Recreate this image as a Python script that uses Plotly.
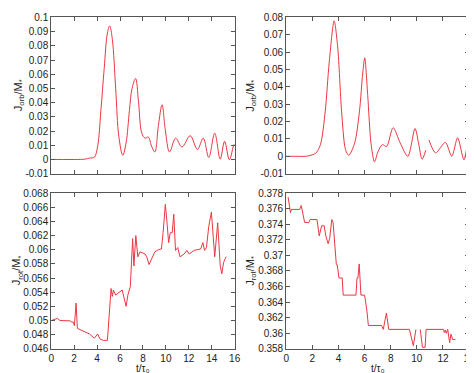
import plotly.graph_objects as go

# ---- data ----
tl_t = [0, 1.0, 2.0, 3.0, 3.34, 3.76, 4.05, 4.33, 4.62, 4.9, 5.1, 5.33, 5.62, 5.9, 6.24, 6.53, 6.82, 7.05, 7.36, 7.61, 7.9,
        8.19, 8.47, 8.75, 9.04, 9.35, 9.67, 9.95, 10.32, 10.85, 11.4, 12.12, 12.75, 13.26, 13.74, 14.26, 14.74, 15.12, 15.54, 15.94, 16.0]
tl_j = [0, 0, 0, 0.0003, 0.001, 0.0016, 0.0094, 0.0344, 0.064, 0.089, 0.094, 0.0846, 0.050, 0.016, 0.003, 0.0117, 0.0345, 0.050, 0.057, 0.041, 0.0185,
        0.015, 0.0158, 0.0094, 0.0053, 0.024, 0.0385, 0.0208, 0.0053, 0.015, 0.0088, 0.0167, 0.0071, 0.015, 0.0014, 0.0185, 0.0003, 0.0128, -0.0002, 0.0105, 0.0095]

tr_t = [0, 1.0, 1.5, 2.25, 2.62, 2.99, 3.29, 3.67, 3.94, 4.24, 4.54, 4.79, 5.24, 5.61, 5.86, 6.01, 6.24, 6.49, 6.76, 7.04, 7.36, 7.69,
        8.18, 8.73, 9.31, 9.86, 10.13, 10.4, 10.68, 10.8,
        10.93, 11.43, 12.18, 12.67, 13.12, 13.6, 13.97, 14.0]
tr_j = [0, 0, 0, 0.0017, 0.0067, 0.026, 0.054, 0.078, 0.063, 0.026, 0.0039, 0.0006, 0.0076, 0.026, 0.048, 0.0567, 0.035, 0.0076, -0.0032, 0.003, 0.0067, 0.0057,
        0.0165, 0.0076, 0.0, 0.016, 0.0076, -0.0017, 0.0035, None,
        0.0094, 0.002, 0.008, 0.0, 0.0107, -0.002, 0.0105, 0.0102]

bl_t = [0, 0.54, 0.77, 1.63, 1.8, 1.91, 2.02, 2.17, 2.28, 2.77, 3.05, 3.34, 3.76, 4.05, 4.25, 4.53, 4.9, 5.22, 5.33, 5.42, 5.62, 5.96, 6.19,
        6.53, 6.7, 6.9, 7.1, 7.21, 7.38, 7.55, 7.75, 8.19, 8.33, 8.53, 8.76, 9.04, 9.33, 9.61, 9.76, 9.95, 10.06, 10.24, 10.38,
        10.55, 10.69, 10.84, 11.04, 11.23, 11.6, 11.83, 12.03, 12.46, 13.03, 13.23, 13.37, 13.54, 13.74, 13.97, 14.26, 14.52,
        14.74, 14.88, 15.03, 15.25]
bl_j = [0.0500, 0.0503, 0.0500, 0.04996, 0.0498, 0.0498, 0.04928, 0.05246, 0.0489, 0.04857, 0.04835, 0.0481, 0.0475, 0.0481, 0.0474, 0.0472, 0.0472, 0.05452, 0.0534, 0.0543, 0.0536, 0.0540, 0.0543,
        0.0520, 0.0537, 0.0548, 0.06158, 0.0577, 0.0620, 0.0590, 0.0597, 0.0594, 0.0590, 0.0579, 0.0588, 0.0597, 0.0600, 0.0601, 0.0624, 0.0664, 0.0646, 0.0610, 0.0624,
        0.0624, 0.0650, 0.0599, 0.0603, 0.0590, 0.0594, 0.0599, 0.0594, 0.0599, 0.0601, 0.0610, 0.0599, 0.0603, 0.0633, 0.0653, 0.0590, 0.0638,
        0.0577, 0.0566, 0.0582, 0.0590]

br_t = [0.15, 0.33, 0.4, 1.03, 1.15, 1.41, 1.73, 1.83, 2.36, 2.53, 2.71, 2.91, 3.03, 3.21, 3.33, 3.49, 3.59, 3.84, 3.91, 4.04, 4.29, 4.36,
        5.34, 5.42, 5.49, 5.59, 5.72, 6.0, 6.17, 6.29, 7.3, 7.43, 7.67, 7.85, 9.43, 9.73, 9.93, 10.1,
        10.26, 10.43, 10.63, 10.71, 12.05, 12.1, 12.18, 12.25, 12.36, 12.51, 12.61, 12.74, 12.94]
br_j = [0.37747, 0.37548, 0.3759, 0.3759, 0.3764, 0.37424, 0.3742, 0.3746, 0.3746, 0.3725, 0.3738, 0.3738, 0.3725, 0.3715, 0.3722, 0.3746, 0.3742, 0.3688, 0.3688, 0.3671, 0.3671, 0.3649,
        0.3649, 0.3671, 0.3671, 0.3689, 0.3649, 0.3649, 0.3630, 0.3610, 0.3610, 0.3605, 0.3626, 0.3605, 0.3605, 0.3584, 0.3605, None,
        0.3605, 0.3582, 0.3582, 0.3605, 0.3605, 0.3601, 0.3604, 0.3600, 0.3605, 0.3588, 0.3599, 0.3592, 0.3592]

x16_ticks = [0, 2, 4, 6, 8, 10, 12, 14, 16]
x14_ticks = [0, 2, 4, 6, 8, 10, 12, 14]
tl_yticks = [-0.01, 0, 0.01, 0.02, 0.03, 0.04, 0.05, 0.06, 0.07, 0.08, 0.09, 0.1]
tl_ylabels = ["-0.01", "0", "0.01", "0.02", "0.03", "0.04", "0.05", "0.06", "0.07", "0.08", "0.09", "0.1"]
tr_yticks = [-0.01, 0, 0.01, 0.02, 0.03, 0.04, 0.05, 0.06, 0.07, 0.08]
tr_ylabels = ["-0.01", "0", "0.01", "0.02", "0.03", "0.04", "0.05", "0.06", "0.07", "0.08"]
bl_yticks = [0.046, 0.048, 0.05, 0.052, 0.054, 0.056, 0.058, 0.06, 0.062, 0.064, 0.066, 0.068]
bl_ylabels = ["0.046", "0.048", "0.05", "0.052", "0.054", "0.056", "0.058", "0.06", "0.062", "0.064", "0.066", "0.068"]
br_yticks = [0.358, 0.36, 0.362, 0.364, 0.366, 0.368, 0.37, 0.372, 0.374, 0.376, 0.378]
br_ylabels = ["0.358", "0.36", "0.362", "0.364", "0.366", "0.368", "0.37", "0.372", "0.374", "0.376", "0.378"]

RED = "rgb(235,55,65)"
FONT = "Liberation Sans, Arial, sans-serif"
W, H = 474, 373

fig = go.Figure()
fig.add_trace(go.Scatter(x=tl_t, y=tl_j, mode="lines", line=dict(color=RED, width=1, shape="spline", smoothing=1.0),
                         xaxis="x", yaxis="y", showlegend=False))
fig.add_trace(go.Scatter(x=tr_t, y=tr_j, mode="lines", line=dict(color=RED, width=1, shape="spline", smoothing=0.8),
                         xaxis="x2", yaxis="y2", showlegend=False, connectgaps=False))
fig.add_trace(go.Scatter(x=bl_t, y=bl_j, mode="lines", line=dict(color=RED, width=1),
                         xaxis="x3", yaxis="y3", showlegend=False))
fig.add_trace(go.Scatter(x=br_t, y=br_j, mode="lines", line=dict(color=RED, width=1),
                         xaxis="x4", yaxis="y4", showlegend=False, connectgaps=False))

left_dom = [41 / W, 228 / W]
right_dom = [280.5 / W, 467 / W]
top_dom = [1 - 165 / H, 1 - 3.5 / H]
bot_dom = [1 - 346 / H, 1 - 185 / H]

axcommon = dict(showgrid=False, zeroline=False, showline=True, linecolor="#555", linewidth=1, mirror="ticks",
                ticks="inside", ticklen=4, tickcolor="#555", tickfont=dict(family=FONT, size=10, color="#222"))

fig.update_layout(
    width=W, height=H, margin=dict(l=0, r=0, t=0, b=0),
    paper_bgcolor="white", plot_bgcolor="white",
    xaxis=dict(domain=left_dom, anchor="y", range=[0, 16], tickvals=x16_ticks, showticklabels=False, **axcommon),
    yaxis=dict(domain=top_dom, anchor="x", range=[-0.01, 0.1], tickvals=tl_yticks, ticktext=tl_ylabels, **axcommon),
    xaxis2=dict(domain=right_dom, anchor="y2", range=[0, 14], tickvals=x14_ticks, showticklabels=False, **axcommon),
    yaxis2=dict(domain=top_dom, anchor="x2", range=[-0.01, 0.08], tickvals=tr_yticks, ticktext=tr_ylabels, **axcommon),
    xaxis3=dict(domain=left_dom, anchor="y3", range=[0, 16], tickvals=x16_ticks, **axcommon),
    yaxis3=dict(domain=bot_dom, anchor="x3", range=[0.046, 0.068], tickvals=bl_yticks, ticktext=bl_ylabels, **axcommon),
    xaxis4=dict(domain=right_dom, anchor="y4", range=[0, 14], tickvals=x14_ticks, **axcommon),
    yaxis4=dict(domain=bot_dom, anchor="x4", range=[0.358, 0.378], tickvals=br_yticks, ticktext=br_ylabels, **axcommon),
)

tfont = dict(family=FONT, size=11, color="#222")
xfont = dict(family=FONT, size=10, color="#222")
annots = [
    dict(text="J<sub>orb</sub>/M<sub>*</sub>", x=8 / W, y=1 - 84 / H, textangle=-90, font=tfont),
    dict(text="J<sub>orb</sub>/M<sub>*</sub>", x=245 / W, y=1 - 84 / H, textangle=-90, font=tfont),
    dict(text="J<sub>rot</sub>/M<sub>*</sub>", x=7 / W, y=1 - 265 / H, textangle=-90, font=tfont),
    dict(text="J<sub>rot</sub>/M<sub>*</sub>", x=245 / W, y=1 - 265 / H, textangle=-90, font=tfont),
    dict(text="t/τ₀", x=135 / W, y=1 - 366.5 / H, textangle=0, font=xfont),
    dict(text="t/τ₀", x=374 / W, y=1 - 366.5 / H, textangle=0, font=xfont),
]
for a in annots:
    fig.add_annotation(xref="paper", yref="paper", showarrow=False,
                       xanchor="center", yanchor="middle", **a)

fig.write_html("out.html")
